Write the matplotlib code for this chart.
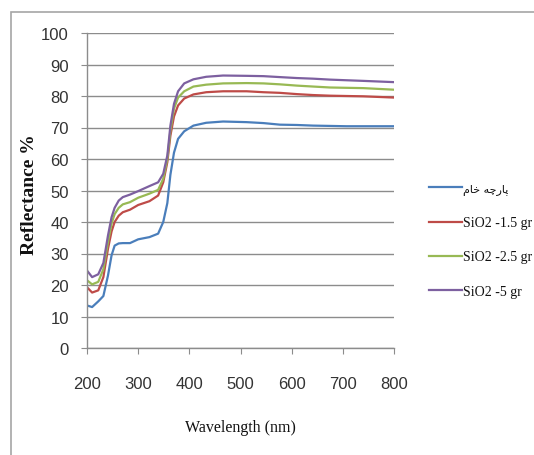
import matplotlib
matplotlib.use("Agg")
import matplotlib.pyplot as plt
from matplotlib.patches import Rectangle

wavelength = [200, 210, 222, 232, 241, 248, 254, 262, 270, 284, 300, 322, 339, 349, 357,
              363, 370, 378, 390, 408, 433, 466, 512, 545, 577, 610, 642, 675, 707, 740, 800]
raw_fabric = [13.5, 13.0, 14.8, 16.5, 23.0, 29.4, 32.5, 33.2, 33.3, 33.3, 34.5, 35.2, 36.3, 40.0, 46.0,
              55.0, 62.0, 66.4, 68.8, 70.6, 71.5, 71.9, 71.7, 71.4, 70.9, 70.8, 70.6, 70.5, 70.4, 70.4, 70.4]
sio2_15 = [19.3, 17.6, 18.3, 22.5, 31.5, 37.0, 40.0, 42.0, 43.1, 43.9, 45.4, 46.6, 48.4, 52.6, 59.0,
           67.4, 73.5, 77.0, 79.2, 80.5, 81.2, 81.5, 81.5, 81.2, 81.0, 80.6, 80.3, 80.1, 80.0, 79.9, 79.5]
sio2_25 = [21.5, 20.2, 21.0, 25.0, 33.6, 39.5, 42.5, 44.5, 45.6, 46.3, 47.7, 49.0, 50.2, 53.7, 60.0,
           69.0, 76.0, 79.5, 81.5, 83.0, 83.6, 84.0, 84.1, 84.0, 83.7, 83.3, 83.0, 82.7, 82.6, 82.5, 82.0]
sio2_5 = [24.6, 22.5, 23.4, 27.0, 35.7, 41.5, 44.5, 46.8, 47.9, 48.7, 49.8, 51.4, 52.6, 55.3, 61.1,
          70.6, 77.5, 81.5, 84.0, 85.3, 86.1, 86.5, 86.4, 86.3, 86.0, 85.7, 85.5, 85.2, 85.0, 84.8, 84.4]

# "پارچه خام" pre-shaped into presentation forms in visual order
label_raw = "\uFEE1\uFE8E\uFEA7 \uFEEA\uFB7C\uFEAD\uFE8E\uFB58"
series_labels = [label_raw, "SiO2 -1.5 gr", "SiO2 -2.5 gr", "SiO2 -5 gr"]
series_values = [raw_fabric, sio2_15, sio2_25, sio2_5]
colors = ["#4A7EBB", "#BE4B48", "#98B954", "#7D60A0"]
x_ticks = [200, 300, 400, 500, 600, 700, 800]
y_ticks = [0, 10, 20, 30, 40, 50, 60, 70, 80, 90, 100]

fig = plt.figure(figsize=(5.34, 4.56), dpi=100)
fig.patches.append(Rectangle((11 / 534, -0.05), 1.0, 1 - 12.5 / 456 + 0.05,
                             transform=fig.transFigure, fill=False,
                             edgecolor="#A6A6A6", linewidth=1.2))

ax = fig.add_axes([87 / 534, 1 - 349 / 456, (394 - 87) / 534, (349 - 34) / 456])
lines = []
for vals, c, lab in zip(series_values, colors, series_labels):
    ln, = ax.plot(wavelength, vals, color=c, linewidth=1.6, label=lab)
    lines.append(ln)

ax.set_xlim(200, 800)
ax.set_ylim(0, 100)
ax.set_xticks(x_ticks)
ax.set_yticks(y_ticks)
ax.yaxis.grid(True, color="#8C8C8C", linewidth=1.0)
ax.set_axisbelow(True)
for s in ["top", "right"]:
    ax.spines[s].set_visible(False)
for s in ["left", "bottom"]:
    ax.spines[s].set_color("#8C8C8C")
    ax.spines[s].set_linewidth(1.0)

tick_font = ["Liberation Sans", "DejaVu Sans"]
ax.tick_params(axis="both", direction="out", length=4, color="#8C8C8C", labelcolor="#333333")
ax.tick_params(axis="y", pad=9)
ax.tick_params(axis="x", pad=16)
for lbl in ax.get_xticklabels() + ax.get_yticklabels():
    lbl.set_family(tick_font)
    lbl.set_fontsize(12)

ax.set_ylabel("Reflectance %", family=["Liberation Serif", "DejaVu Serif"], fontweight="bold",
              fontsize=14, color="#111111")
ax.yaxis.set_label_coords((38 - 87) / 307, 0.49)
ax.set_xlabel("Wavelength (nm)", family=["Liberation Serif", "DejaVu Serif"],
              fontsize=11.5, color="#111111")
ax.xaxis.set_label_coords(0.5, (349 - 420) / 315)

leg = fig.legend(handles=lines, loc="upper left", bbox_to_anchor=(423 / 534, 1 - 178 / 456),
                 frameon=False, handlelength=2.4, handletextpad=0.05, labelspacing=1.52,
                 borderaxespad=0, prop={"family": ["Liberation Serif", "DejaVu Sans"], "size": 10})
for t in leg.get_texts():
    t.set_color("#111111")
leg.get_texts()[0].set_family(["DejaVu Sans"])
leg.get_texts()[0].set_fontsize(8)

fig.savefig("out.png", dpi=100)
